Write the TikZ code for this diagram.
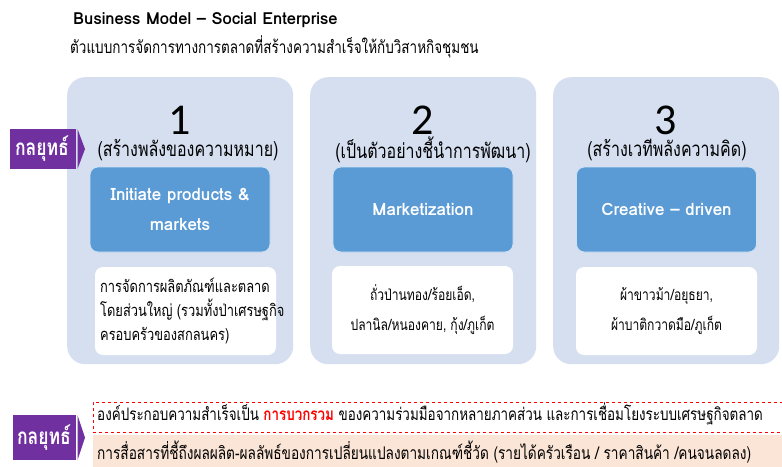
\documentclass[tikz,border=0pt]{standalone}
\usepackage{fontspec}
\setmainfont[Script=Thai]{Loma}
\newfontfamily\thai[Script=Thai, FakeStretch=0.78]{Loma}
\newfontfamily\numfont{Carlito}
\definecolor{panelc}{HTML}{D5DFF0}
\definecolor{bluec}{HTML}{5B9BD5}
\definecolor{purplec}{HTML}{7030A0}
\definecolor{peachc}{HTML}{FBE5D6}
\definecolor{redc}{HTML}{FF0000}
\tikzset{
  panelbox/.style={fill=panelc, rounded corners=18pt, anchor=north west, minimum width=226pt, minimum height=287pt, inner sep=0pt},
  bluebox/.style={fill=bluec, draw=white!70!bluec, line width=0.8pt, rounded corners=8pt, minimum width=180pt, minimum height=85pt, inner sep=0pt, text=white, font=\fontsize{17}{30}\selectfont\bfseries, align=center},
  whitebox/.style={fill=white, rounded corners=8pt, minimum width=181pt, minimum height=88pt, inner sep=0pt, font=\thai\fontsize{15.5}{30}\selectfont, align=center},
  numtext/.style={font=\numfont\fontsize{44}{44}\selectfont, inner sep=0pt},
  headtext/.style={font=\thai\fontsize{20.5}{22}\selectfont, inner sep=0pt},
  purplearrow/.style={fill=purplec},
  purplelabel/.style={text=white, font=\thai\fontsize{22.5}{24}\selectfont\bfseries, inner sep=0pt},
  bottomtext/.style={font=\thai\fontsize{17.2}{20}\selectfont, inner sep=0pt, anchor=west}
}
\begin{document}
\begin{tikzpicture}[x=1pt,y=-1pt]
\useasboundingbox (0,0) rectangle (782,466);
\clip (0,0) rectangle (782,466);
\fill[white] (0,0) rectangle (782,466);

% titles
\node[anchor=west, inner sep=0pt, font=\fontsize{16.6}{20}\selectfont\bfseries] (title) at (73,20) {Business Model -- Social Enterprise};
\node[anchor=west, inner sep=0pt, font=\thai\fontsize{17.3}{20}\selectfont] (subtitle) at (70,47) {ตัวแบบการจัดการทางการตลาดที่สร้างความสำเร็จให้กับวิสาหกิจชุมชน};

% panels
\node[panelbox] (p1) at (67,77) {};
\node[panelbox] (p2) at (310,77) {};
\node[panelbox] (p3) at (553,77) {};

% numbers
\node[numtext] (n1) at (180,120) {1};
\node[numtext] (n2) at (423,120) {2};
\node[numtext] (n3) at (666,120) {3};

% headings
\node[headtext] (h1) at (188,150) {(สร้างพลังของความหมาย)};
\node[headtext] (h2) at (433,150) {(เป็นตัวอย่างชี้นำการพัฒนา)};
\node[headtext] (h3) at (667,150) {(สร้างเวทีพลังความคิด)};

% blue boxes
\node[bluebox] (b1) at (180,209.5) {Initiate products \&\\markets};
\node[bluebox] (b2) at (423,209.5) {Marketization};
\node[bluebox] (b3) at (666.5,209.5) {Creative -- driven};

% white boxes
\node[whitebox] (w1) at (185.5,311) {};
\node[anchor=west, inner sep=0pt, align=left, font=\thai\fontsize{16.5}{24}\selectfont] (w1t) at (100,311) {การจัดการผลิตภัณฑ์และตลาด\\โดยส่วนใหญ่ (รวมทั้งป่าเศรษฐกิจ\\ครอบครัวของสกลนคร)};
\node[whitebox] (w2) at (422.5,310) {ถั่วป่านทอง/ร้อยเอ็ด,\\ปลานิล/หนองคาย, กุ้ง/ภูเก็ต};
\node[whitebox] (w3) at (666.5,311) {ผ้าขาวม้า/อยุธยา,\\ผ้าบาติกวาดมือ/ภูเก็ต};

% purple arrows
\fill[purplearrow] (10,129) -- (76,129) -- (76,169) -- (10,169) -- cycle;
\fill[purplearrow] (77.5,129) -- (85,149) -- (77.5,169) -- cycle;
\node[purplelabel] (s1) at (42,149) {กลยุทธ์};
\fill[purplearrow] (13,415) -- (76,415) -- (76,460) -- (13,460) -- cycle;
\fill[purplearrow] (77.5,415) -- (85,437.5) -- (77.5,460) -- cycle;
\node[purplelabel] (s2) at (44,437.5) {กลยุทธ์};

% bottom boxes
\node[draw=redc, dashed, line width=0.8pt, anchor=north west, minimum width=720pt, minimum height=30pt, inner sep=0pt] (r1) at (93,402) {};
\node[fill=peachc, anchor=north west, minimum width=720pt, minimum height=32pt, inner sep=0pt] (r2) at (93,435) {};
\node[bottomtext] (t1) at (97,414) {องค์ประกอบความสำเร็จเป็น \textcolor{redc}{\bfseries การบวกรวม} ของความร่วมมือจากหลายภาคส่วน และการเชื่อมโยงระบบเศรษฐกิจตลาด};
\node[bottomtext, font=\thai\fontsize{17.5}{20}\selectfont] (t2) at (97,452) {การสื่อสารที่ชี้ถึงผลผลิต-ผลลัพธ์ของการเปลี่ยนแปลงตามเกณฑ์ชี้วัด (รายได้ครัวเรือน / ราคาสินค้า /คนจนลดลง)};
\end{tikzpicture}
\end{document}
